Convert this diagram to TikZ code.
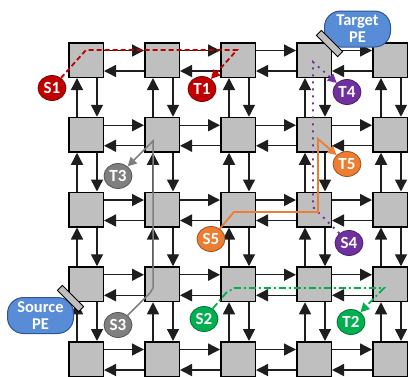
\documentclass[tikz,border=0pt]{standalone}
\usepackage{fontspec}
\setmainfont{Carlito}
\usetikzlibrary{arrows.meta,shapes.geometric}
\definecolor{boxgray}{RGB}{191,191,191}
\definecolor{wire}{RGB}{30,30,30}
\definecolor{pathred}{RGB}{192,0,0}
\definecolor{pathgreen}{RGB}{0,176,80}
\definecolor{pathgray}{RGB}{127,127,127}
\definecolor{pathpurple}{RGB}{112,48,160}
\definecolor{pathorange}{RGB}{237,125,49}
\definecolor{peblue}{RGB}{88,140,214}
\definecolor{peedge}{RGB}{47,85,151}
\tikzset{
  router/.style={draw=black,line width=1.5pt,fill=boxgray,minimum size=34.5pt,inner sep=0pt},
  link/.style={-{Triangle[length=12pt,width=12pt]},draw=wire,line width=1.4pt},
  tag/.style={ellipse,draw=#1!65!black,fill=#1,text=white,line width=0.8pt,inner sep=0pt,
    minimum width=28pt,minimum height=25pt,font=\fontsize{17}{17}\selectfont\bfseries},
  pe/.style={draw=peedge,fill=peblue,line width=1pt,rounded corners=16pt,minimum width=66pt,
    minimum height=36pt,inner sep=0pt,align=center,text=white,font=\fontsize{16.5}{17}\selectfont\bfseries},
  port/.style={draw=black,fill=boxgray,line width=0.8pt,minimum width=30pt,minimum height=7pt,
    inner sep=0pt,rotate=-45},
  route/.style={-{Triangle[length=9pt,width=9pt]},line width=1.8pt,draw=#1},
}
\begin{document}
\begin{tikzpicture}[x=1pt,y=-1pt]
\clip (0,0) rectangle (408,376);
% mesh of routers
\foreach \i in {0,...,4}
  \foreach \j in {0,...,4}
    \node[router] (r\i\j) at ({86+76*\i},{60+74.75*\j}) {};
% horizontal links
\foreach \i in {0,...,3}
  \foreach \j in {0,...,4} {
    \pgfmathtruncatemacro{\n}{\i+1}
    \draw[link] ([yshift=9.5pt]r\i\j.east) -- ([yshift=9.5pt]r\n\j.west);
    \draw[link] ([yshift=-11pt]r\n\j.west) -- ([yshift=-11pt]r\i\j.east);
  }
% vertical links
\foreach \i in {0,...,4}
  \foreach \j in {0,...,3} {
    \pgfmathtruncatemacro{\n}{\j+1}
    \draw[link] ([xshift=-9pt]r\i\n.north) -- ([xshift=-9pt]r\i\j.south);
    \draw[link] ([xshift=11pt]r\i\j.south) -- ([xshift=11pt]r\i\n.north);
  }
% processing elements
\node[pe] (tpe) at (357.5,29) {Target\\PE};
\node[pe] (spe) at (40.5,315.5) {Source\\PE};
\node[port] (tport) at (329.5,43.5) {};
\node[port] (sport) at (70.5,298.5) {};
% sources and targets
\node[tag=pathred] (s1) at (52,88) {S1};
\node[tag=pathred] (t1) at (202,89) {T1};
\node[tag=pathgreen] (s2) at (204,319) {S2};
\node[tag=pathgreen] (t2) at (351,322) {T2};
\node[tag=pathgray] (s3) at (118,325) {S3};
\node[tag=pathgray] (t3) at (118,176) {T3};
\node[tag=pathpurple] (s4) at (349,243) {S4};
\node[tag=pathpurple] (t4) at (347,92) {T4};
\node[tag=pathorange] (s5) at (211,239) {S5};
\node[tag=pathorange] (t5) at (347,164) {T5};
% routes
\coordinate (a1) at (86,50);
\coordinate (a2) at (237,50);
\draw[route=pathred,dash pattern=on 5pt off 3pt] (s1) -- (a1) -- (a2) -- (t1);
\coordinate (g1) at (150,293);
\coordinate (g2) at (153,288);
\coordinate (g3) at (153,141);
\draw[route=pathgray,line width=1.5pt] (s3) -- (g1) -- (g2) -- (g3) -- (t3);
\coordinate (p1) at (313,207);
\coordinate (p2) at (313,62);
\draw[route=pathpurple,dash pattern=on 2pt off 5pt] (s4) -- (p1) -- (p2) -- (t4);
\coordinate (o1) at (234,212);
\coordinate (o2) at (318,212);
\coordinate (o3) at (318,139);
\draw[route=pathorange] (s5) -- (o1) -- (o2) -- (o3) -- (t5);
\coordinate (q1) at (226,293);
\coordinate (q2) at (234,288);
\coordinate (q3) at (384,288);
\draw[route=pathgreen,dash pattern=on 7pt off 3pt on 2pt off 3pt] (s2) -- (q1) -- (q2) -- (q3) -- (t2);
\end{tikzpicture}
\end{document}
